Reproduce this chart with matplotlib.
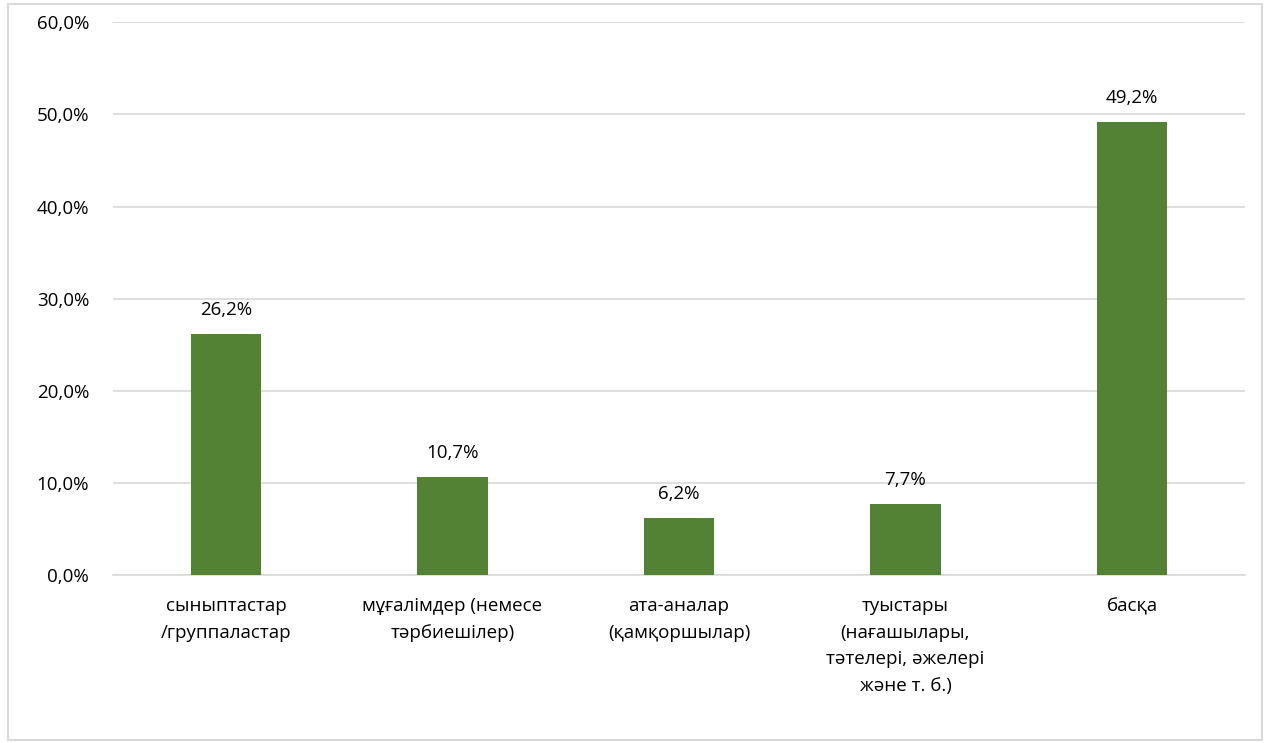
import matplotlib
matplotlib.use("Agg")
import matplotlib.pyplot as plt
from matplotlib.patches import Rectangle
from matplotlib.ticker import FuncFormatter

# data
categories = [
    "сыныптастар\n/группаластар",
    "мұғалімдер (немесе\nтәрбиешілер)",
    "ата-аналар\n(қамқоршылар)",
    "туыстары\n(нағашылары,\nтәтелері, әжелері\nжәне т. б.)",
    "басқа",
]
values = [26.2, 10.7, 6.2, 7.7, 49.2]
yticks = [0, 10, 20, 30, 40, 50, 60]

plt.rcParams['font.family'] = ['Open Sans', 'DejaVu Sans']
fs = 13.5

fig = plt.figure(figsize=(12.68, 7.43), dpi=100)
ax = fig.add_axes([0.089, 0.226, 0.893, 0.744])

# outer border like the spreadsheet chart frame
fig.patches.append(Rectangle((0.006, 0.004), 0.989, 0.99, transform=fig.transFigure,
                             fill=False, edgecolor='#d9d9d9', linewidth=1.5))

x = range(len(categories))
bars = ax.bar(x, values, width=0.31, color='#548235', zorder=3)

for xi, v in zip(x, values):
    ax.text(xi, v + 1.6, f"{v:.1f}%".replace('.', ','), ha='center', va='bottom',
            fontsize=fs, color='#000000')

ax.set_ylim(0, 60)
ax.set_xlim(-0.5, len(categories) - 0.5)
ax.set_yticks(yticks)
ax.yaxis.set_major_formatter(FuncFormatter(lambda v, p: f"{v:.1f}%".replace('.', ',')))
ax.grid(axis='y', color='#d9d9d9', linewidth=1.2, zorder=0)
ax.set_xticks(list(x))
ax.set_xticklabels(categories, fontsize=fs, linespacing=1.6, va='top')
ax.tick_params(axis='y', labelsize=fs, length=0, pad=17)
ax.tick_params(axis='x', length=0, pad=16)
for s in ['top', 'right', 'left']:
    ax.spines[s].set_visible(False)
ax.spines['bottom'].set_color('#d9d9d9')
ax.spines['bottom'].set_linewidth(1.2)

fig.savefig("out.png", dpi=100)
